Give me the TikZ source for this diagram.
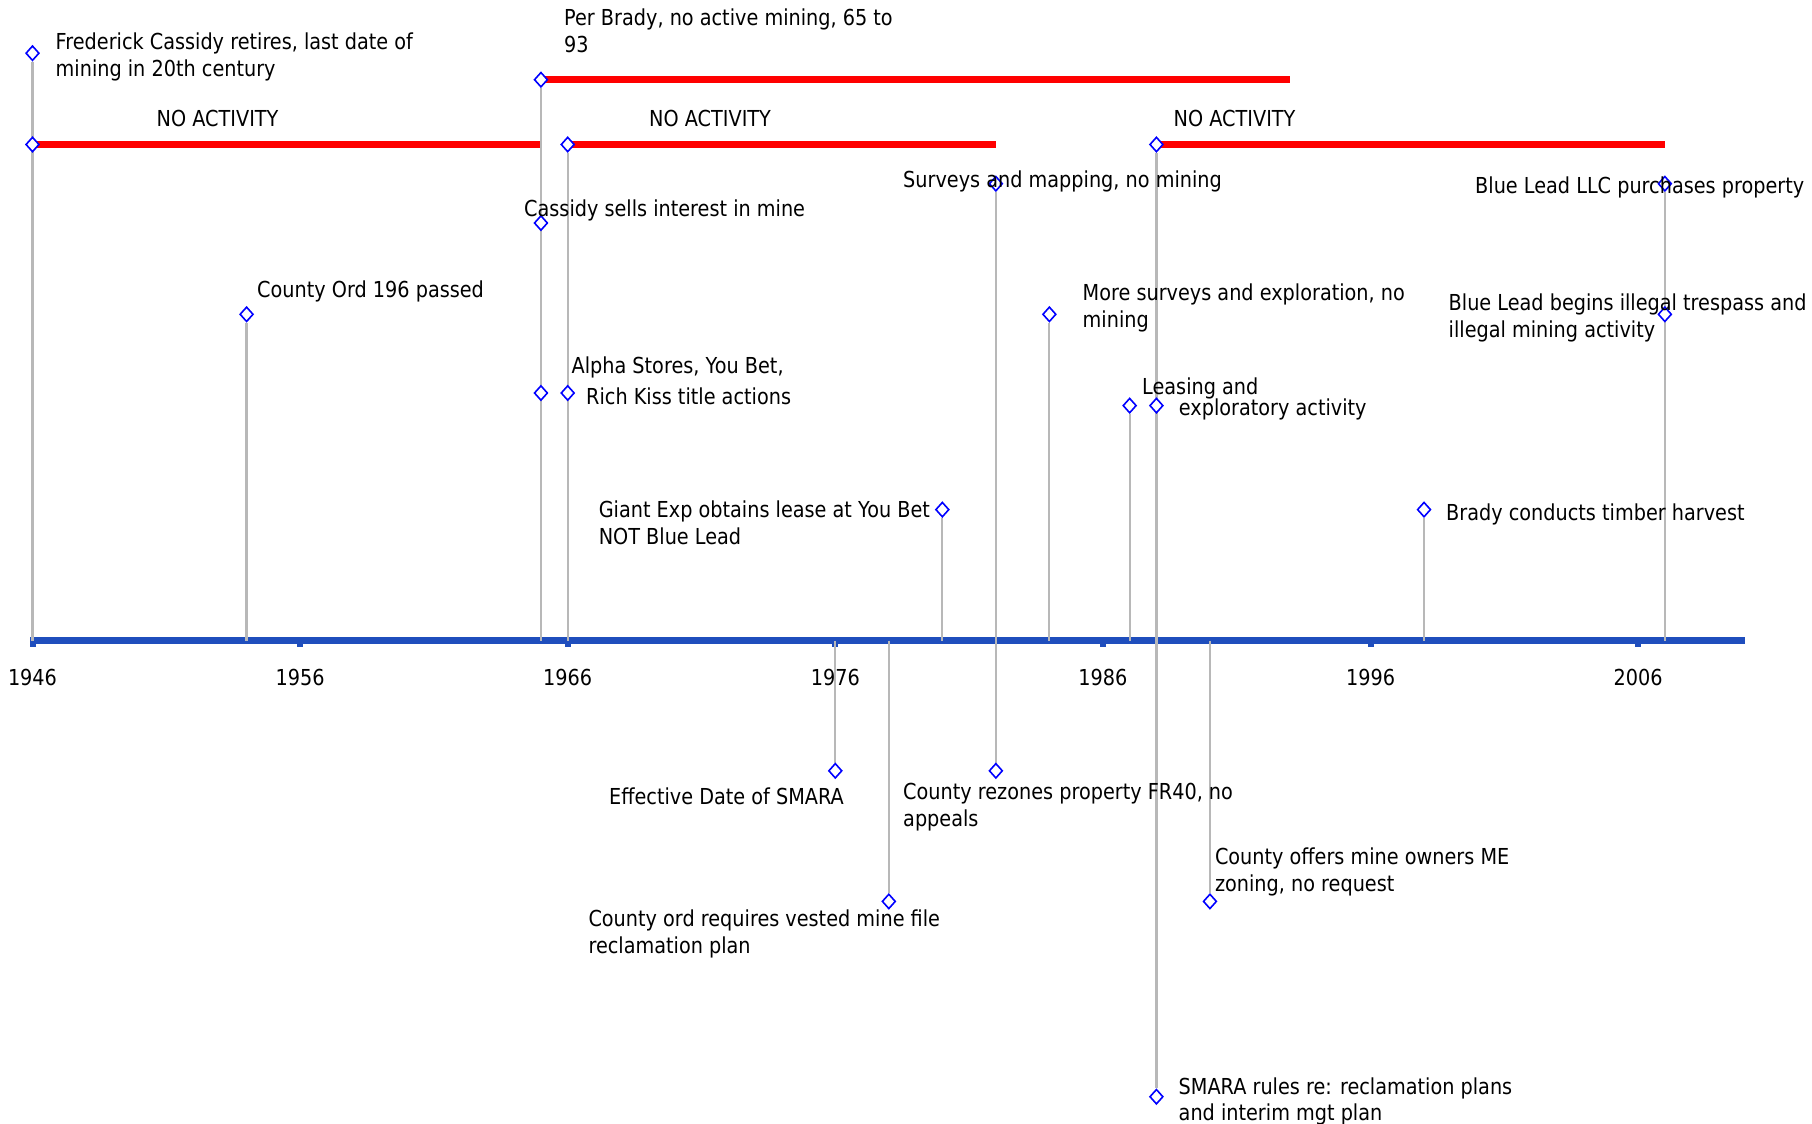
\documentclass[tikz,border=0pt]{standalone}
\usepackage{fontspec}
\setmainfont{DejaVu Sans}[FakeStretch=0.875]
\usetikzlibrary{shapes.geometric}
\pgfdeclarelayer{background}
\pgfsetlayers{background,main}
\definecolor{axisblue}{RGB}{31,78,189}
\definecolor{stemgray}{RGB}{184,184,184}
\definecolor{evblue}{RGB}{0,0,255}
\newcommand\yx[1]{32.5+26.76*(#1-1946)}
\begin{document}
\begin{tikzpicture}[x=1pt,y=-1pt,
  ev/.style={diamond, draw=evblue, fill=white, line width=1.6pt, inner sep=0pt, minimum width=13.5pt, minimum height=15pt},
  lbl/.style={anchor=north west, inner sep=0pt, align=left, font=\fontsize{22}{26.6}\selectfont, text=black},
  yrlbl/.style={anchor=center, inner sep=0pt, font=\fontsize{22}{26.6}\selectfont, text=black},
  stem/.style={draw=stemgray, line width=2.2pt},
  redbar/.style={draw=red, line width=7pt},
  axisline/.style={draw=axisblue, line width=7.6pt},
  tickmark/.style={fill=axisblue}]
\useasboundingbox (0,0) rectangle (1812,1124);

% event markers
\node[ev] (dFred) at ({\yx{1946}},53.2) {};
\node[ev] (dBar1) at ({\yx{1946}},144.5) {};
\node[ev] (dOrd) at ({\yx{1954}},314.3) {};
\node[ev] (dBrady) at ({\yx{1965}},79.7) {};
\node[ev] (dSells) at ({\yx{1965}},223) {};
\node[ev] (dAlpha) at ({\yx{1965}},393) {};
\node[ev] (dBar2) at ({\yx{1966}},144.5) {};
\node[ev] (dRich) at ({\yx{1966}},393) {};
\node[ev] (dSmaraEff) at ({\yx{1976}},770.8) {};
\node[ev] (dVested) at ({\yx{1978}},901.4) {};
\node[ev] (dGiant) at ({\yx{1980}},509.6) {};
\node[ev] (dSurveys) at ({\yx{1982}},183.7) {};
\node[ev] (dRezone) at ({\yx{1982}},770.8) {};
\node[ev] (dMore) at ({\yx{1984}},314.3) {};
\node[ev] (dLeasing) at ({\yx{1987}},405.6) {};
\node[ev] (dBar3) at ({\yx{1988}},144.5) {};
\node[ev] (dExpl) at ({\yx{1988}},405.6) {};
\node[ev] (dSmaraRules) at ({\yx{1988}},1096.7) {};
\node[ev] (dME) at ({\yx{1990}},901.4) {};
\node[ev] (dTimber) at ({\yx{1998}},509.6) {};
\node[ev] (dPurch) at ({\yx{2007}},183.7) {};
\node[ev] (dTresp) at ({\yx{2007}},314.3) {};

% labels
\node[lbl] (lFred) at (55.5,33) {Frederick Cassidy retires, last date of\\mining in 20th century};
\node[lbl] (lNA1) at (156.5,110.3) {NO ACTIVITY};
\node[lbl] (lBrady) at (564,8.8) {Per Brady, no active mining, 65 to\\93};
\node[lbl] (lNA2) at (649,110.3) {NO ACTIVITY};
\node[lbl] (lNA3) at (1173.5,110.3) {NO ACTIVITY};
\node[lbl] (lSells) at (524,199.6) {Cassidy sells interest in mine};
\node[lbl] (lSurveys) at (903,170.3) {Surveys and mapping, no mining};
\node[lbl] (lOrd) at (257,280.6) {County Ord 196 passed};
\node[lbl] (lMore) at (1082.5,283.9) {More surveys and exploration, no\\mining};
\node[lbl] (lPurch) at (1475,176.8) {Blue Lead LLC purchases property};
\node[lbl] (lTresp) at (1448.5,294) {Blue Lead begins illegal trespass and\\illegal mining activity};
\node[lbl] (lAlpha) at (571.4,356.8) {Alpha Stores, You Bet,};
\node[lbl] (lRich) at (586,387.8) {Rich Kiss title actions};
\node[lbl] (lLeasing) at (1142,377.3) {Leasing and};
\node[lbl] (lExpl) at (1178.7,398.3) {exploratory activity};
\node[lbl] (lGiant) at (598.6,500.9) {Giant Exp obtains lease at You Bet\\NOT Blue Lead};
\node[lbl] (lTimber) at (1446,503.1) {Brady conducts timber harvest};
\node[lbl] (lSmaraEff) at (609,787.3) {Effective Date of SMARA};
\node[lbl] (lRezone) at (903,783) {County rezones property FR40, no\\appeals};
\node[lbl] (lME) at (1214.8,847.8) {County offers mine owners ME\\zoning, no request};
\node[lbl] (lVested) at (588.3,909.8) {County ord requires vested mine file\\reclamation plan};
\node[lbl] (lSmaraRules) at (1178.5,1077.1) {SMARA rules re: reclamation plans\\and interim mgt plan};

% year labels
\foreach \yr in {1946,1956,...,2006}
  \node[yrlbl] (y\yr) at ({\yx{\yr}},677.7) {\yr};

% axis points
\coordinate (axL) at (30,640.5);
\coordinate (axR) at (1745,640.5);
\foreach \yr in {1946,1954,1965,1966,1976,1978,1980,1984,1987,1990,1998,2007}
  \coordinate (a\yr) at ({\yx{\yr}},640.5);
\coordinate (nb1end) at ({\yx{1965}-1},144.5);
\coordinate (nb2end) at ({\yx{1982}},144.5);
\coordinate (nb3end) at ({\yx{2007}},144.5);
\coordinate (brEnd) at ({\yx{1993}},79.7);

\begin{pgfonlayer}{background}
  \draw[axisline] (axL) -- (axR);
  \foreach \yr in {1946,1956,...,2006}
    \fill[tickmark] ({\yx{\yr}-3},640) rectangle ({\yx{\yr}+3},647);
  % stems
  \draw[stem] (dFred) -- (a1946);
  \draw[stem] (dOrd) -- (a1954);
  \draw[stem] (dBrady) -- (a1965);
  \draw[stem] (dBar2) -- (a1966);
  \draw[stem] (a1976) -- (dSmaraEff);
  \draw[stem] (a1978) -- (dVested);
  \draw[stem] (dGiant) -- (a1980);
  \draw[stem] (dSurveys) -- (dRezone);
  \draw[stem] (dMore) -- (a1984);
  \draw[stem] (dLeasing) -- (a1987);
  \draw[stem] (dBar3) -- (dSmaraRules);
  \draw[stem] (a1990) -- (dME);
  \draw[stem] (dTimber) -- (a1998);
  \draw[stem] (dPurch) -- (a2007);
  % red duration bars
  \draw[redbar] (dBar1.center) -- (nb1end);
  \draw[redbar] (dBar2.center) -- (nb2end);
  \draw[redbar] (dBar3.center) -- (nb3end);
  \draw[redbar] (dBrady.center) -- (brEnd);
\end{pgfonlayer}
\end{tikzpicture}
\end{document}
